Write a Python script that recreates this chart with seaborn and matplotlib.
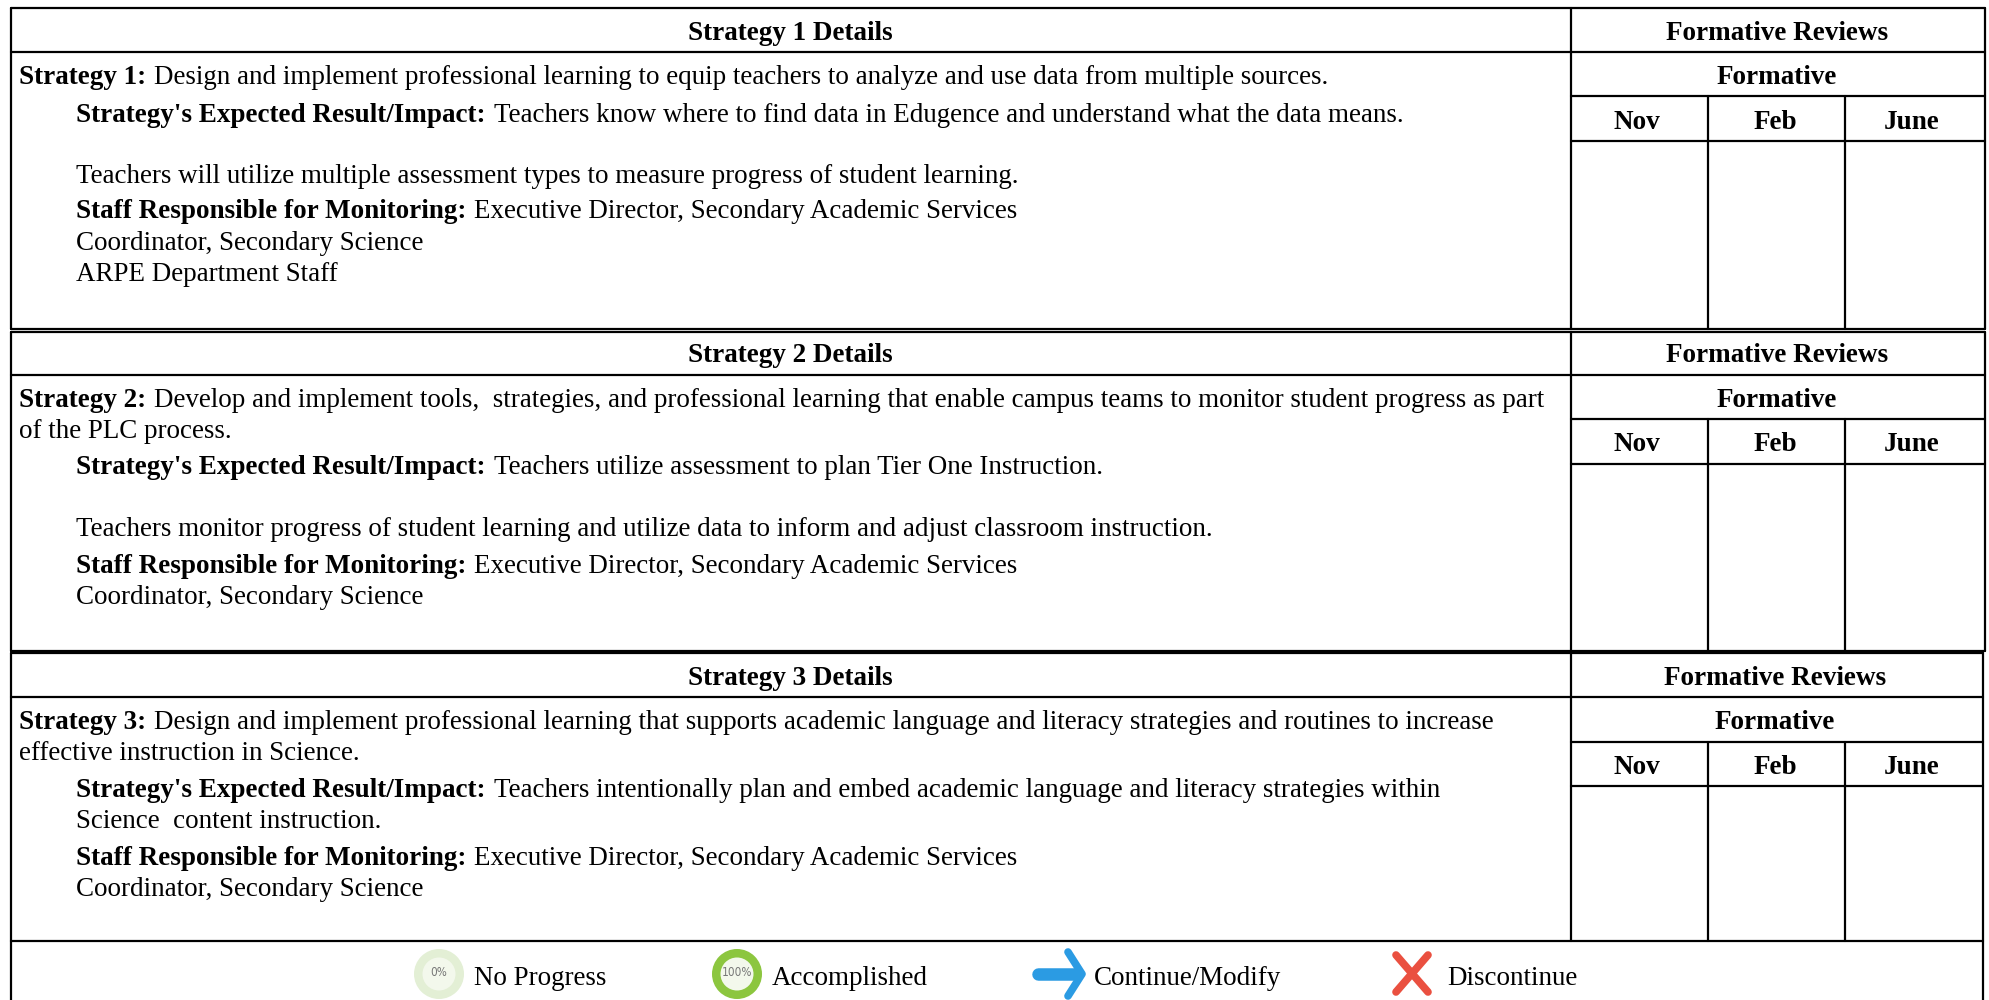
import matplotlib
matplotlib.use("Agg")
import matplotlib.pyplot as plt
from matplotlib.patches import Circle
import pandas as pd
import seaborn as sns

sns.set_theme(style="white")
plt.rcParams["font.family"] = ["Liberation Serif", "DejaVu Serif"]

# ---- content -------------------------------------------------------------
header_titles = ["Strategy 1 Details", "Strategy 2 Details", "Strategy 3 Details"]
review_title = "Formative Reviews"
formative_title = "Formative"
months = ["Nov", "Feb", "June"]

strategy_1 = [
    ("Strategy 1:", "Design and implement professional learning to equip teachers to analyze and use data from multiple sources.", 19, 84),
    ("Strategy's Expected Result/Impact:", "Teachers know where to find data in Edugence and understand what the data means.", 76, 122),
    ("", "Teachers will utilize multiple assessment types to measure progress of student learning.", 76, 183),
    ("Staff Responsible for Monitoring:", "Executive Director, Secondary Academic Services", 76, 218),
    ("", "Coordinator, Secondary Science", 76, 250),
    ("", "ARPE Department Staff", 76, 281),
]
strategy_2 = [
    ("Strategy 2:", "Develop and implement tools,  strategies, and professional learning that enable campus teams to monitor student progress as part", 19, 407),
    ("", "of the PLC process.", 19, 438),
    ("Strategy's Expected Result/Impact:", "Teachers utilize assessment to plan Tier One Instruction.", 76, 474),
    ("", "Teachers monitor progress of student learning and utilize data to inform and adjust classroom instruction.", 76, 536),
    ("Staff Responsible for Monitoring:", "Executive Director, Secondary Academic Services", 76, 573),
    ("", "Coordinator, Secondary Science", 76, 604),
]
strategy_3 = [
    ("Strategy 3:", "Design and implement professional learning that supports academic language and literacy strategies and routines to increase", 19, 729),
    ("", "effective instruction in Science.", 19, 760),
    ("Strategy's Expected Result/Impact:", "Teachers intentionally plan and embed academic language and literacy strategies within", 76, 797),
    ("", "Science  content instruction.", 76, 828),
    ("Staff Responsible for Monitoring:", "Executive Director, Secondary Academic Services", 76, 865),
    ("", "Coordinator, Secondary Science", 76, 896),
]
legend_labels = ["No Progress", "Accomplished", "Continue/Modify", "Discontinue"]
legend_label_x = [474, 772, 1094, 1447]

# ---- table rules: (x0, y0, x1, y1) --------------------------------------
left, divider, feb_x, june_x = 11, 1571, 1708, 1845
row_tops = [8, 331.5, 653]
row_bottoms = [328.5, 651, 941]
row_rights = [1984.5, 1984.5, 1982.5]
header_rules = [52, 375, 697]
formative_rules = [96, 419, 742]
month_rules = [141, 464, 786]

rules = []
for top, bottom, right, hy, fy, my in zip(row_tops, row_bottoms, row_rights,
                                          header_rules, formative_rules, month_rules):
    rules += [
        (left, top, right, top),
        (left, bottom, right, bottom),
        (left, hy, right, hy),
        (divider, fy, right, fy),
        (divider, my, right, my),
        (left, top, left, bottom),
        (divider, top, divider, bottom),
        (right, top, right, bottom),
        (feb_x, fy, feb_x, bottom),
        (june_x, fy, june_x, bottom),
    ]
rules += [(left, 941, left, 1000), (1982.5, 941, 1982.5, 1000)]

frame = pd.DataFrame(
    [{"x": x, "y": y, "rule": i}
     for i, (x0, y0, x1, y1) in enumerate(rules)
     for x, y in ((x0, y0), (x1, y1))]
)

# ---- drawing --------------------------------------------------------------
fig = plt.figure(figsize=(19.9, 10), dpi=100, facecolor="white")
ax = fig.add_axes([0, 0, 1, 1])
sns.lineplot(data=frame, x="x", y="y", units="rule", estimator=None, sort=False,
             color="black", linewidth=1.6, ax=ax, legend=False)
ax.set_xlim(0, 1990)
ax.set_ylim(1000, 0)
ax.axis("off")

SIZE = 19.5
PLAIN_SIZE = 19.47
renderer = fig.canvas.get_renderer()


def spans(rows):
    for bold, plain, x, y in rows:
        cursor = x
        if bold:
            t = ax.text(cursor, y, bold, fontsize=SIZE, fontweight="bold", va="baseline", ha="left", color="black")
            cursor = t.get_window_extent(renderer).x1 + 8
        ax.text(cursor, y, plain, fontsize=PLAIN_SIZE, va="baseline", ha="left", color="black")


for rows in (strategy_1, strategy_2, strategy_3):
    spans(rows)

review_centres = [1777, 1777, 1775]
header_baselines = [40, 362, 685]
formative_baselines = [84, 407, 729]
month_baselines = [129, 451, 774]
month_centres = [1637, 1775, 1912]
common = dict(fontsize=SIZE, fontweight="bold", ha="center", va="baseline", color="black")
for title, cx, hb, fb, mb in zip(header_titles, review_centres, header_baselines,
                                 formative_baselines, month_baselines):
    ax.text(790, hb, title, **common)
    ax.text(cx, hb, review_title, **common)
    ax.text(cx, fb, formative_title, **common)
    for m, mx in zip(months, month_centres):
        ax.text(mx, mb, m, **common)

# legend icons
ring_pale, ring_green, core = "#e3efd5", "#8cc63f", "#f3f8ec"
for cx, ring, label in ((439, ring_pale, "0%"), (737, ring_green, "100%")):
    ax.add_patch(Circle((cx, 974), 25, fc=ring, ec="none"))
    ax.add_patch(Circle((cx, 974), 16.5, fc=core, ec="none"))
    ax.text(cx, 973, label, fontsize=8.5, ha="center", va="center", color="#777777",
            family=["DejaVu Sans"], fontstretch="condensed")

blue = "#2b9be3"
ax.plot([1038, 1075], [974, 974], color=blue, lw=9, solid_capstyle="round")
ax.plot([1068, 1082, 1068], [952, 974, 996], color=blue, lw=5.5,
        solid_capstyle="round", solid_joinstyle="round")
red = "#ea5040"
ax.plot([1396, 1428], [955, 992], color=red, lw=5.5, solid_capstyle="round")
ax.plot([1428, 1396], [955, 992], color=red, lw=5.5, solid_capstyle="round")

for label, x in zip(legend_labels, legend_label_x):
    ax.text(x, 985, label, fontsize=PLAIN_SIZE, va="baseline", ha="left", color="black")

fig.savefig("out.png", dpi=100, facecolor="white")
